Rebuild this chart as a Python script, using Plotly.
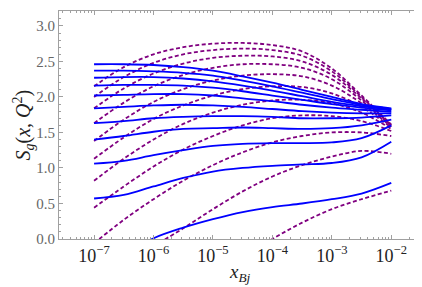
import plotly.graph_objects as go

# log10(x) grid where values were read
logx = [-7, -6.5, -6, -5.5, -5, -4.5, -4, -3.5, -3, -2.5, -2]

# Solid blue curves
blue_1 = [2.46, 2.46, 2.45, 2.42, 2.37, 2.29, 2.20, 2.10, 2.00, 1.90, 1.84]
blue_2 = [2.37, 2.37, 2.36, 2.34, 2.30, 2.23, 2.15, 2.06, 1.97, 1.89, 1.83]
blue_3 = [2.27, 2.28, 2.28, 2.26, 2.22, 2.16, 2.09, 2.01, 1.93, 1.87, 1.82]
blue_4 = [2.16, 2.17, 2.17, 2.16, 2.13, 2.08, 2.02, 1.96, 1.90, 1.85, 1.81]
blue_5 = [2.02, 2.03, 2.04, 2.04, 2.02, 1.98, 1.94, 1.89, 1.85, 1.82, 1.79]
blue_6 = [1.84, 1.86, 1.88, 1.89, 1.88, 1.86, 1.83, 1.80, 1.78, 1.77, 1.77]
blue_7 = [1.63, 1.66, 1.70, 1.72, 1.73, 1.73, 1.72, 1.70, 1.70, 1.71, 1.74]
blue_8 = [1.40, 1.45, 1.51, 1.55, 1.56, 1.57, 1.56, 1.55, 1.56, 1.60, 1.68]
blue_9 = [1.06, 1.10, 1.18, 1.25, 1.31, 1.34, 1.35, 1.35, 1.36, 1.42, 1.60]
blue_10 = [0.57, 0.62, 0.74, 0.86, 0.95, 1.00, 1.03, 1.05, 1.07, 1.15, 1.37]
blue_11 = [None, -0.22, 0.01, 0.16, 0.28, 0.38, 0.45, 0.50, 0.56, 0.64, 0.79]

# Dashed purple curves
purple_1 = [2.15, 2.42, 2.60, 2.70, 2.75, 2.76, 2.73, 2.64, 2.40, 2.02, 1.61]
purple_2 = [2.00, 2.28, 2.48, 2.60, 2.66, 2.68, 2.66, 2.58, 2.36, 2.00, 1.60]
purple_3 = [1.84, 2.12, 2.33, 2.47, 2.55, 2.58, 2.57, 2.50, 2.31, 1.98, 1.60]
purple_4 = [1.63, 1.92, 2.15, 2.31, 2.41, 2.46, 2.46, 2.41, 2.25, 1.95, 1.59]
purple_5 = [1.38, 1.68, 1.93, 2.11, 2.23, 2.30, 2.32, 2.29, 2.16, 1.91, 1.58]
purple_6 = [1.13, 1.43, 1.69, 1.88, 2.02, 2.11, 2.15, 2.14, 2.05, 1.86, 1.57]
purple_7 = [0.82, 1.13, 1.40, 1.62, 1.78, 1.89, 1.95, 1.96, 1.91, 1.78, 1.55]
purple_8 = [0.44, 0.74, 1.02, 1.26, 1.45, 1.60, 1.70, 1.74, 1.73, 1.66, 1.52]
purple_9 = [-0.06, 0.27, 0.56, 0.82, 1.04, 1.22, 1.36, 1.45, 1.50, 1.50, 1.45]
purple_10 = [None, None, -0.10, 0.15, 0.42, 0.67, 0.88, 1.04, 1.16, 1.24, 1.20]
purple_11 = [None, None, None, None, None, -0.25, 0.00, 0.23, 0.42, 0.56, 0.68]

blue_series = [blue_1, blue_2, blue_3, blue_4, blue_5, blue_6, blue_7, blue_8,
               blue_9, blue_10, blue_11]
purple_series = [purple_1, purple_2, purple_3, purple_4, purple_5, purple_6,
                 purple_7, purple_8, purple_9, purple_10, purple_11]

x_tick_vals = [1e-7, 1e-6, 1e-5, 1e-4, 1e-3, 1e-2]
x_tick_text = ["10<sup>−7</sup>", "10<sup>−6</sup>", "10<sup>−5</sup>",
               "10<sup>−4</sup>", "10<sup>−3</sup>", "10<sup>−2</sup>"]
y_tick_vals = [0.0, 0.5, 1.0, 1.5, 2.0, 2.5, 3.0]
y_tick_text = ["0.0", "0.5", "1.0", "1.5", "2.0", "2.5", "3.0"]

xs = [10 ** v for v in logx]

fig = go.Figure()
for ys in purple_series:
    fig.add_trace(go.Scatter(x=xs, y=ys, mode="lines", line_shape="spline",
                             line=dict(color="#800080", width=1.8, dash="4px,2.5px"),
                             showlegend=False, hoverinfo="skip"))
for ys in blue_series:
    fig.add_trace(go.Scatter(x=xs, y=ys, mode="lines", line_shape="spline",
                             line=dict(color="#0000ff", width=1.8),
                             showlegend=False, hoverinfo="skip"))

minor_x = [k * 10.0 ** n for n in range(-8, -1) for k in range(2, 10)]
axis_col = "#a0a0a0"
serif = "Liberation Serif"

fig.update_layout(
    width=422, height=287,
    margin=dict(l=51, r=9, t=3, b=56),
    paper_bgcolor="white", plot_bgcolor="white",
    font=dict(family=serif),
    xaxis=dict(type="log", range=[-7.59, -1.5], showgrid=False, zeroline=False,
               tickmode="array", tickvals=x_tick_vals, ticktext=x_tick_text,
               ticks="inside", ticklen=4, tickcolor=axis_col, tickwidth=1,
               showline=True, linecolor=axis_col, linewidth=1, mirror="allticks",
               tickfont=dict(family=serif, size=18, color="#222"),
               minor=dict(tickmode="array", tickvals=minor_x, ticks="inside",
                          ticklen=2, tickcolor=axis_col, showgrid=False)),
    yaxis=dict(range=[0, 3.21], showgrid=False, zeroline=False,
               tickmode="array", tickvals=y_tick_vals, ticktext=y_tick_text,
               ticks="inside", ticklen=4, tickcolor=axis_col, tickwidth=1,
               showline=True, linecolor=axis_col, linewidth=1, mirror="allticks",
               tickfont=dict(family=serif, size=15, color="#666"),
               minor=dict(dtick=0.1, ticks="inside", ticklen=2,
                          tickcolor=axis_col, showgrid=False)),
    annotations=[
        dict(text="<i>S</i><sub><i>g</i></sub>(<i>x</i>, <i>Q</i><sup>2</sup>)",
             xref="paper", yref="paper", x=-0.098, y=0.5, xanchor="center",
             yanchor="middle", textangle=-90, showarrow=False,
             font=dict(family=serif, size=20, color="#222")),
        dict(text="<i>x</i><sub><i>Bj</i></sub>",
             xref="paper", yref="paper", x=0.5, y=-0.15, xanchor="center",
             yanchor="middle", showarrow=False,
             font=dict(family=serif, size=19, color="#222")),
    ],
)

fig.write_html("out.html")
